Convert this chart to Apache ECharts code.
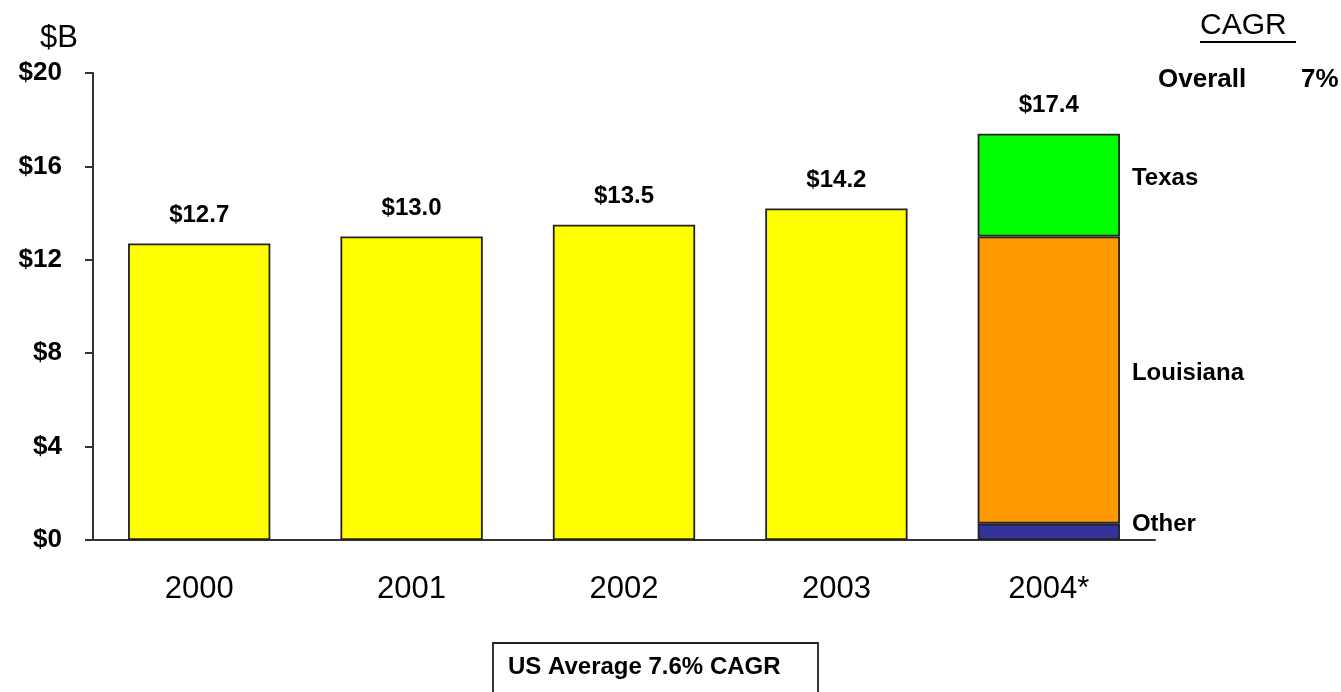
<!DOCTYPE html>
<html>
<head>
<meta charset="utf-8">
<script src="https://cdn.jsdelivr.net/npm/echarts@6/dist/echarts.min.js"></script>
<style>
html,body{margin:0;padding:0;background:#fff;}
#chart{width:1341px;height:692px;}
</style>
</head>
<body>
<div id="chart"></div>
<script>
var categories = ['2000', '2001', '2002', '2003', '2004*'];
var totalsEarly = [12.7, 13.0, 13.5, 14.2, null];
var other2004 = [null, null, null, null, 0.7];
var louisiana2004 = [null, null, null, null, 12.3];
var texas2004 = [null, null, null, null, 4.4];
var totalLabels = [12.7, 13.0, 13.5, 14.2, 17.4];
var yTicks = [0, 4, 8, 12, 16, 20];

var FONT = "'Liberation Sans', Arial, sans-serif";
var chart = echarts.init(document.getElementById('chart'));
var border = {borderColor: '#222', borderWidth: 1.8};

function segLabel(name) {
  return {
    show: true, position: 'right', distance: 12, offset: [0, -7],
    formatter: name, color: '#000', fontFamily: FONT, fontWeight: 'bold', fontSize: 24
  };
}

chart.setOption({
  animation: false,
  backgroundColor: '#fff',
  grid: {left: 93, right: 186, top: 73, bottom: 152, containLabel: false},
  xAxis: {
    type: 'category',
    data: categories,
    axisLine: {show: true, lineStyle: {color: '#333', width: 2}},
    axisTick: {show: false},
    axisLabel: {color: '#000', fontFamily: FONT, fontSize: 31, margin: 34}
  },
  yAxis: {
    type: 'value',
    min: yTicks[0], max: yTicks[yTicks.length - 1], interval: 4,
    splitLine: {show: false},
    axisLine: {show: true, lineStyle: {color: '#333', width: 2}},
    axisTick: {show: true, length: 8, lineStyle: {color: '#333', width: 2}},
    axisLabel: {
      color: '#000', fontFamily: FONT, fontWeight: 'bold', fontSize: 26, margin: 31,
      formatter: function (v) { return '$' + v; }
    }
  },
  series: [
    {
      name: 'Total', type: 'bar', stack: 's', barWidth: '67%',
      data: totalsEarly,
      itemStyle: Object.assign({color: '#FFFF00'}, border)
    },
    {
      name: 'Other', type: 'bar', stack: 's', barWidth: '67%',
      data: other2004,
      itemStyle: Object.assign({color: '#333399'}, border),
      label: segLabel('Other')
    },
    {
      name: 'Louisiana', type: 'bar', stack: 's', barWidth: '67%',
      data: louisiana2004,
      itemStyle: Object.assign({color: '#FF9900'}, border),
      label: segLabel('Louisiana')
    },
    {
      name: 'Texas', type: 'bar', stack: 's', barWidth: '67%',
      data: texas2004,
      itemStyle: Object.assign({color: '#00FF00'}, border),
      label: segLabel('Texas')
    },
    {
      name: 'Labels', type: 'scatter', symbolSize: 0, silent: true,
      data: totalLabels,
      itemStyle: {opacity: 1},
      label: {
        show: true, position: 'top', distance: 16,
        formatter: function (p) { return '$' + p.value.toFixed(1); },
        color: '#000', fontFamily: FONT, fontWeight: 'bold', fontSize: 24
      }
    }
  ],
  graphic: [
    {type: 'text', left: 40, top: 23, style: {text: '$B', fontFamily: FONT, fontSize: 31, fill: '#000'}},
    {type: 'text', left: 1200, top: 11, style: {text: 'CAGR', fontFamily: FONT, fontSize: 30, fill: '#000'}},
    {type: 'line', shape: {x1: 1200, y1: 42, x2: 1296, y2: 42}, style: {stroke: '#000', lineWidth: 2}},
    {type: 'text', left: 1158, top: 67, style: {text: 'Overall', fontFamily: FONT, fontWeight: 'bold', fontSize: 26, fill: '#000'}},
    {type: 'text', left: 1301, top: 67, style: {text: '7%', fontFamily: FONT, fontWeight: 'bold', fontSize: 26, fill: '#000'}},
    {type: 'rect', shape: {x: 493, y: 643, width: 325, height: 60}, style: {fill: '#fff', stroke: '#222', lineWidth: 1.8}},
    {type: 'text', left: 508, top: 655, style: {text: 'US Average 7.6% CAGR', fontFamily: FONT, fontWeight: 'bold', fontSize: 24, fill: '#000'}}
  ]
});
</script>
</body>
</html>
